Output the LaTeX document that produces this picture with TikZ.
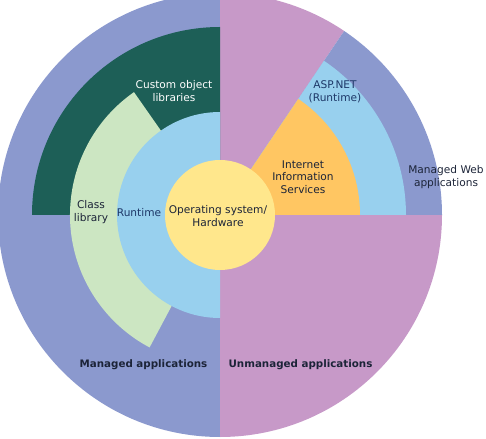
\documentclass[tikz,border=0pt]{standalone}
\usepackage{fontspec}
\setmainfont{DejaVu Sans}
\definecolor{mgdblue}{HTML}{8B99CE}
\definecolor{unmpurple}{HTML}{C799C8}
\definecolor{teal1}{HTML}{1D5F57}
\definecolor{lgreen}{HTML}{CCE6C2}
\definecolor{lblue}{HTML}{98D0EE}
\definecolor{yell}{HTML}{FFE78C}
\definecolor{orng}{HTML}{FFC662}
\definecolor{txtdark}{HTML}{1C2438}
\definecolor{txtblue}{HTML}{1E3868}
\tikzset{
  lbl/.style={align=center, inner sep=0pt, font=\fontsize{10.6}{12.6}\selectfont, text=txtdark},
  boldlbl/.style={lbl, font=\fontsize{10.3}{12.6}\selectfont\bfseries},
}
\begin{document}
\begin{tikzpicture}[x=1pt,y=1pt]
\useasboundingbox (-220,-223) rectangle (266,215);
% outer ring
\fill[mgdblue] (0,0) -- (90:222) arc (90:270:222) -- cycle;
\fill[unmpurple] (0,0) -- (270:222) arc (270:360:222) -- cycle;
\fill[unmpurple] (0,0) -- (56:222) arc (56:90:222) -- cycle;
\fill[mgdblue] (0,0) -- (0:222) arc (0:56:222) -- cycle;
% web stack
\fill[lblue] (0,0) -- (0:186) arc (0:56:186) -- cycle;
\fill[orng] (0,0) -- (0:140) arc (0:56:140) -- cycle;
% managed stack
\fill[teal1] (0,0) -- (90:188) arc (90:180:188) -- cycle;
\fill[lgreen] (0,0) -- (125:150) arc (125:242:150) -- cycle;
\fill[lblue] (0,0) -- (90:103) arc (90:270:103) -- cycle;
% core
\fill[yell] (0,0) circle (55);
% labels
\node[lbl, text=white] (custom) at (-46,124) {Custom object\\libraries};
\node[lbl] (classlib) at (-129,3) {Class\\library};
\node[lbl, text=txtblue] (runtime) at (-81,2) {Runtime};
\node[lbl] (os) at (-2,-1) {Operating system/\\Hardware};
\node[lbl, text=txtblue] (asp) at (115,123.5) {ASP.NET\\(Runtime)};
\node[lbl] (iis) at (83,38) {Internet\\Information\\Services};
\node[lbl] (mweb) at (226,38) {Managed Web\\applications};
\node[boldlbl] (mapps) at (-76.5,-150) {Managed applications};
\node[boldlbl] (uapps) at (80.5,-150) {Unmanaged applications};
\end{tikzpicture}
\end{document}
